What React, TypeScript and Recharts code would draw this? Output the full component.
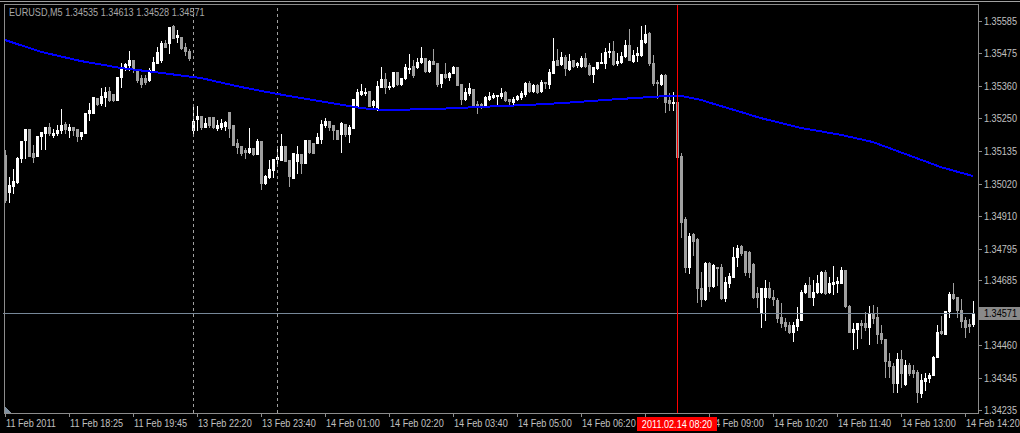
import { ComposedChart, Bar, Line, XAxis, YAxis, ReferenceLine } from "recharts";

// EURUSD M5, 11 Feb 2011 17:05 .. 14 Feb 2011 14:15 (broker time)
const SYMBOL = "EURUSD,M5";

const OPEN = [
  1.35120, 1.34992, 1.35013, 1.35026, 1.35110, 1.35172, 1.35210, 1.35127, 1.35117, 1.35186,
  1.35196, 1.35217, 1.35190, 1.35196, 1.35207, 1.35228, 1.35207, 1.35217, 1.35210, 1.35186,
  1.35196, 1.35266, 1.35266, 1.35318, 1.35301, 1.35321, 1.35342, 1.35332, 1.35311, 1.35391,
  1.35425, 1.35432, 1.35450, 1.35419, 1.35387, 1.35387, 1.35380, 1.35412, 1.35439, 1.35450,
  1.35509, 1.35509, 1.35568, 1.35530, 1.35530, 1.35495, 1.35481, 1.35207, 1.35245, 1.35255,
  1.35217, 1.35252, 1.35252, 1.35214, 1.35217, 1.35221, 1.35269, 1.35224, 1.35162, 1.35151,
  1.35137, 1.35131, 1.35144, 1.35124, 1.35169, 1.35023, 1.35044, 1.35068, 1.35106, 1.35103,
  1.35151, 1.35103, 1.35040, 1.35099, 1.35124, 1.35092, 1.35172, 1.35162, 1.35162, 1.35176,
  1.35224, 1.35238, 1.35224, 1.35207, 1.35193, 1.35228, 1.35193, 1.35214, 1.35287, 1.35332,
  1.35335, 1.35342, 1.35294, 1.35283, 1.35356, 1.35384, 1.35356, 1.35360, 1.35408, 1.35366,
  1.35387, 1.35419, 1.35429, 1.35425, 1.35443, 1.35457, 1.35412, 1.35446, 1.35439, 1.35370,
  1.35401, 1.35391, 1.35405, 1.35425, 1.35366, 1.35314, 1.35335, 1.35349, 1.35297, 1.35297,
  1.35290, 1.35314, 1.35321, 1.35325, 1.35325, 1.35339, 1.35314, 1.35304, 1.35314, 1.35321,
  1.35332, 1.35370, 1.35342, 1.35363, 1.35342, 1.35373, 1.35366, 1.35405, 1.35450, 1.35436,
  1.35460, 1.35419, 1.35450, 1.35432, 1.35429, 1.35457, 1.35432, 1.35401, 1.35422, 1.35439,
  1.35439, 1.35478, 1.35481, 1.35439, 1.35443, 1.35464, 1.35502, 1.35446, 1.35467, 1.35467,
  1.35512, 1.35543, 1.35439, 1.35373, 1.35366, 1.35398, 1.35311, 1.35301, 1.35304, 1.35117,
  1.34898, 1.34732, 1.34846, 1.34829, 1.34659, 1.34620, 1.34745, 1.34666, 1.34732, 1.34732,
  1.34624, 1.34676, 1.34697, 1.34766, 1.34804, 1.34787, 1.34784, 1.34742, 1.34641, 1.34575,
  1.34627, 1.34659, 1.34627, 1.34617, 1.34558, 1.34541, 1.34530, 1.34506, 1.34527, 1.34548,
  1.34645, 1.34669, 1.34627, 1.34645, 1.34645, 1.34714, 1.34645, 1.34673, 1.34676, 1.34676,
  1.34721, 1.34596, 1.34506, 1.34516, 1.34537, 1.34537, 1.34523, 1.34572, 1.34558, 1.34502,
  1.34482, 1.34405, 1.34388, 1.34329, 1.34412, 1.34326, 1.34391, 1.34374, 1.34367, 1.34294,
  1.34336, 1.34346, 1.34357, 1.34419, 1.34509, 1.34499, 1.34579, 1.34638, 1.34627, 1.34582,
  1.34548, 1.34534, 1.34535,
];

const HIGH = [
  1.35137, 1.35044, 1.35072, 1.35113, 1.35169, 1.35210, 1.35210, 1.35155, 1.35186, 1.35200,
  1.35217, 1.35231, 1.35210, 1.35224, 1.35280, 1.35235, 1.35228, 1.35217, 1.35210, 1.35200,
  1.35266, 1.35301, 1.35321, 1.35318, 1.35353, 1.35356, 1.35356, 1.35332, 1.35391, 1.35439,
  1.35439, 1.35481, 1.35450, 1.35419, 1.35398, 1.35398, 1.35422, 1.35460, 1.35495, 1.35516,
  1.35519, 1.35564, 1.35571, 1.35554, 1.35530, 1.35509, 1.35488, 1.35290, 1.35290, 1.35255,
  1.35248, 1.35252, 1.35252, 1.35242, 1.35245, 1.35238, 1.35269, 1.35224, 1.35176, 1.35151,
  1.35144, 1.35214, 1.35144, 1.35176, 1.35169, 1.35051, 1.35103, 1.35106, 1.35144, 1.35193,
  1.35151, 1.35103, 1.35127, 1.35151, 1.35124, 1.35172, 1.35172, 1.35162, 1.35196, 1.35242,
  1.35248, 1.35238, 1.35224, 1.35207, 1.35235, 1.35228, 1.35224, 1.35314, 1.35349, 1.35366,
  1.35353, 1.35342, 1.35311, 1.35377, 1.35425, 1.35405, 1.35373, 1.35408, 1.35408, 1.35387,
  1.35436, 1.35471, 1.35450, 1.35457, 1.35495, 1.35457, 1.35450, 1.35488, 1.35439, 1.35401,
  1.35439, 1.35408, 1.35429, 1.35425, 1.35366, 1.35353, 1.35370, 1.35349, 1.35307, 1.35301,
  1.35325, 1.35339, 1.35335, 1.35328, 1.35353, 1.35342, 1.35314, 1.35321, 1.35328, 1.35342,
  1.35373, 1.35377, 1.35366, 1.35366, 1.35380, 1.35373, 1.35419, 1.35526, 1.35488, 1.35478,
  1.35467, 1.35471, 1.35450, 1.35443, 1.35464, 1.35474, 1.35439, 1.35425, 1.35443, 1.35474,
  1.35491, 1.35509, 1.35516, 1.35474, 1.35478, 1.35519, 1.35557, 1.35484, 1.35495, 1.35568,
  1.35571, 1.35547, 1.35467, 1.35380, 1.35401, 1.35401, 1.35335, 1.35339, 1.35304, 1.35127,
  1.34905, 1.34850, 1.34850, 1.34832, 1.34714, 1.34749, 1.34749, 1.34742, 1.34732, 1.34742,
  1.34697, 1.34711, 1.34801, 1.34808, 1.34808, 1.34787, 1.34787, 1.34745, 1.34662, 1.34659,
  1.34686, 1.34679, 1.34652, 1.34624, 1.34607, 1.34555, 1.34541, 1.34541, 1.34593, 1.34652,
  1.34676, 1.34697, 1.34686, 1.34704, 1.34718, 1.34721, 1.34697, 1.34735, 1.34697, 1.34732,
  1.34721, 1.34600, 1.34537, 1.34537, 1.34548, 1.34575, 1.34596, 1.34600, 1.34593, 1.34530,
  1.34482, 1.34433, 1.34398, 1.34433, 1.34443, 1.34409, 1.34398, 1.34391, 1.34374, 1.34360,
  1.34364, 1.34364, 1.34423, 1.34530, 1.34562, 1.34579, 1.34645, 1.34676, 1.34627, 1.34620,
  1.34558, 1.34551, 1.34613,
];

const LOW = [
  1.34957, 1.34957, 1.34988, 1.35023, 1.35096, 1.35110, 1.35117, 1.35096, 1.35117, 1.35141,
  1.35141, 1.35190, 1.35183, 1.35190, 1.35196, 1.35196, 1.35183, 1.35190, 1.35169, 1.35176,
  1.35196, 1.35242, 1.35266, 1.35294, 1.35294, 1.35290, 1.35307, 1.35307, 1.35311, 1.35356,
  1.35415, 1.35415, 1.35408, 1.35373, 1.35356, 1.35366, 1.35377, 1.35408, 1.35439, 1.35443,
  1.35495, 1.35474, 1.35526, 1.35512, 1.35488, 1.35467, 1.35450, 1.35196, 1.35207, 1.35210,
  1.35217, 1.35217, 1.35214, 1.35207, 1.35210, 1.35207, 1.35183, 1.35155, 1.35127, 1.35120,
  1.35110, 1.35127, 1.35120, 1.35124, 1.35002, 1.35020, 1.35040, 1.35044, 1.35092, 1.35103,
  1.35099, 1.35013, 1.35040, 1.35058, 1.35058, 1.35092, 1.35127, 1.35127, 1.35162, 1.35162,
  1.35217, 1.35207, 1.35176, 1.35176, 1.35131, 1.35186, 1.35165, 1.35214, 1.35287, 1.35328,
  1.35328, 1.35290, 1.35287, 1.35276, 1.35356, 1.35335, 1.35349, 1.35356, 1.35363, 1.35363,
  1.35384, 1.35405, 1.35391, 1.35422, 1.35439, 1.35408, 1.35408, 1.35436, 1.35360, 1.35356,
  1.35387, 1.35380, 1.35405, 1.35363, 1.35297, 1.35311, 1.35328, 1.35287, 1.35266, 1.35283,
  1.35287, 1.35311, 1.35318, 1.35294, 1.35318, 1.35307, 1.35290, 1.35294, 1.35311, 1.35314,
  1.35325, 1.35339, 1.35339, 1.35335, 1.35339, 1.35353, 1.35353, 1.35405, 1.35432, 1.35432,
  1.35398, 1.35415, 1.35425, 1.35425, 1.35425, 1.35425, 1.35398, 1.35373, 1.35419, 1.35439,
  1.35422, 1.35460, 1.35432, 1.35432, 1.35439, 1.35460, 1.35450, 1.35443, 1.35446, 1.35464,
  1.35509, 1.35432, 1.35363, 1.35318, 1.35363, 1.35269, 1.35276, 1.35276, 1.35113, 1.34836,
  1.34714, 1.34711, 1.34773, 1.34610, 1.34596, 1.34617, 1.34648, 1.34662, 1.34669, 1.34620,
  1.34613, 1.34662, 1.34697, 1.34735, 1.34773, 1.34704, 1.34697, 1.34624, 1.34593, 1.34523,
  1.34548, 1.34624, 1.34600, 1.34541, 1.34523, 1.34513, 1.34502, 1.34475, 1.34513, 1.34548,
  1.34641, 1.34627, 1.34600, 1.34641, 1.34641, 1.34638, 1.34641, 1.34638, 1.34645, 1.34676,
  1.34593, 1.34506, 1.34447, 1.34450, 1.34485, 1.34513, 1.34464, 1.34537, 1.34468, 1.34468,
  1.34350, 1.34350, 1.34298, 1.34298, 1.34315, 1.34322, 1.34357, 1.34350, 1.34263, 1.34280,
  1.34305, 1.34333, 1.34357, 1.34419, 1.34499, 1.34499, 1.34558, 1.34620, 1.34558, 1.34523,
  1.34489, 1.34506, 1.34528,
];

const CLOSE = [
  1.34964, 1.35016, 1.35030, 1.35110, 1.35169, 1.35210, 1.35117, 1.35113, 1.35186, 1.35200,
  1.35217, 1.35196, 1.35196, 1.35207, 1.35224, 1.35210, 1.35217, 1.35207, 1.35186, 1.35200,
  1.35266, 1.35276, 1.35321, 1.35297, 1.35325, 1.35339, 1.35311, 1.35311, 1.35391, 1.35425,
  1.35436, 1.35450, 1.35419, 1.35380, 1.35366, 1.35373, 1.35415, 1.35443, 1.35478, 1.35509,
  1.35495, 1.35564, 1.35526, 1.35537, 1.35491, 1.35481, 1.35457, 1.35238, 1.35255, 1.35217,
  1.35231, 1.35224, 1.35217, 1.35224, 1.35231, 1.35235, 1.35214, 1.35155, 1.35148, 1.35127,
  1.35131, 1.35144, 1.35124, 1.35169, 1.35023, 1.35047, 1.35072, 1.35106, 1.35113, 1.35151,
  1.35099, 1.35047, 1.35127, 1.35124, 1.35092, 1.35172, 1.35131, 1.35127, 1.35183, 1.35228,
  1.35238, 1.35217, 1.35207, 1.35176, 1.35231, 1.35193, 1.35217, 1.35314, 1.35339, 1.35342,
  1.35339, 1.35290, 1.35307, 1.35360, 1.35384, 1.35356, 1.35360, 1.35408, 1.35366, 1.35387,
  1.35425, 1.35422, 1.35398, 1.35443, 1.35457, 1.35412, 1.35446, 1.35436, 1.35366, 1.35401,
  1.35391, 1.35405, 1.35425, 1.35363, 1.35314, 1.35339, 1.35353, 1.35290, 1.35287, 1.35287,
  1.35321, 1.35325, 1.35328, 1.35328, 1.35335, 1.35311, 1.35307, 1.35314, 1.35325, 1.35335,
  1.35370, 1.35342, 1.35363, 1.35339, 1.35373, 1.35370, 1.35408, 1.35446, 1.35432, 1.35460,
  1.35422, 1.35446, 1.35429, 1.35439, 1.35457, 1.35429, 1.35401, 1.35425, 1.35443, 1.35443,
  1.35478, 1.35481, 1.35436, 1.35446, 1.35464, 1.35502, 1.35450, 1.35467, 1.35474, 1.35519,
  1.35540, 1.35439, 1.35370, 1.35370, 1.35398, 1.35304, 1.35301, 1.35304, 1.35113, 1.34888,
  1.34732, 1.34839, 1.34822, 1.34659, 1.34620, 1.34745, 1.34666, 1.34738, 1.34728, 1.34624,
  1.34679, 1.34700, 1.34766, 1.34797, 1.34780, 1.34714, 1.34714, 1.34627, 1.34627, 1.34659,
  1.34659, 1.34627, 1.34620, 1.34555, 1.34537, 1.34527, 1.34506, 1.34530, 1.34551, 1.34645,
  1.34669, 1.34627, 1.34645, 1.34676, 1.34714, 1.34641, 1.34676, 1.34679, 1.34683, 1.34721,
  1.34596, 1.34506, 1.34516, 1.34537, 1.34530, 1.34523, 1.34572, 1.34555, 1.34499, 1.34482,
  1.34405, 1.34388, 1.34329, 1.34412, 1.34364, 1.34391, 1.34364, 1.34364, 1.34298, 1.34339,
  1.34346, 1.34357, 1.34419, 1.34506, 1.34502, 1.34579, 1.34638, 1.34624, 1.34582, 1.34544,
  1.34523, 1.34527, 1.34571,
];

// moving average, read at a few bars and joined
const MA_IDX = [0, 9, 19, 29, 39, 49, 59, 68, 83, 89, 95, 108, 119, 131, 140, 150, 161, 166, 169, 174, 179, 189, 199, 209, 217, 225, 234, 242];
const MA_VAL = [
  1.35519, 1.35478, 1.35446, 1.35422, 1.35405, 1.35387, 1.35356, 1.35332, 1.35297, 1.35283,
  1.35276, 1.35280, 1.35287, 1.35294, 1.35301, 1.35311, 1.35321, 1.35325, 1.35325, 1.35311,
  1.35290, 1.35248, 1.35214, 1.35190, 1.35165, 1.35124, 1.35078, 1.35047,
];

// the 07:40 label sits under the cursor date box and is not visible
const TIME_TICKS = [0, 16, 32, 48, 64, 80, 96, 112, 128, 144, 160, 176, 192, 208, 224, 240];
const TIME_LABELS = [
  "11 Feb 2011", "11 Feb 18:25", "11 Feb 19:45", "13 Feb 22:20", "13 Feb 23:40", "14 Feb 01:00",
  "14 Feb 02:20", "14 Feb 03:40", "14 Feb 05:00", "14 Feb 06:20", "", "14 Feb 09:00",
  "14 Feb 10:20", "14 Feb 11:40", "14 Feb 13:00", "14 Feb 14:20",
];

const PRICE_TICKS = [1.35585, 1.35475, 1.3536, 1.3525, 1.35135, 1.3502, 1.3491, 1.34795, 1.34685, 1.34571, 1.3446, 1.34345, 1.34235];
const LAST = 1.34571;
const SEPARATORS = [47, 68];
const CURSOR_IDX = 168;
const CURSOR_LABEL = "2011.02.14 08:20";
const Y_MIN = 1.34225;
const Y_MAX = 1.35644;

const data = OPEN.map((o, i) => {
  const m = MA_IDX.indexOf(i);
  return { i, o, h: HIGH[i], l: LOW[i], c: CLOSE[i], range: [LOW[i], HIGH[i]], ma: m >= 0 ? MA_VAL[m] : null };
});

const FONT = "'Liberation Sans', Arial, sans-serif";
const TXT = "#c0c0c0";
const FRAME = "#8c8c8c";

// MT4 uses a narrow 8pt face; squeeze Liberation Sans horizontally to match
function Label({ x, y, fill, anchor, children }: any) {
  return (
    <text transform={`translate(${x},${y}) scale(0.83,1)`} textAnchor={anchor || "start"} fill={fill} fontSize={11} fontFamily={FONT}>
      {children}
    </text>
  );
}

function Candle(props: any) {
  const { x, y, width, height, payload } = props;
  const { o, h, l, c } = payload;
  const k = height / (h - l || 1e-9);
  const py = (v: number) => Math.round(y + (h - v) * k);
  const cx = Math.round(x + width / 2);
  const color = c >= o ? "#ffffff" : "#a0a0a0";
  const top = py(Math.max(o, c));
  const bot = py(Math.min(o, c));
  const hi = py(h);
  const lo = py(l);
  return (
    <g>
      <rect x={cx} y={hi} width={1} height={lo - hi + 1} fill={color} />
      <rect x={cx - 1} y={top} width={3} height={bot - top + 1} fill={color} />
    </g>
  );
}

function TimeTick(props: any) {
  const { x, payload } = props;
  const cx = Math.round(x);
  if (payload.value === CURSOR_IDX) {
    return (
      <g>
        <rect x={cx - 40} y={417} width={80} height={14} fill="#ff0000" />
        <Label x={cx} y={428} fill="#ffffff" anchor="middle">{CURSOR_LABEL}</Label>
      </g>
    );
  }
  const n = TIME_TICKS.indexOf(payload.value);
  if (n < 0) return null;
  return (
    <g>
      <line x1={cx + 0.5} x2={cx + 0.5} y1={413} y2={417} stroke={FRAME} />
      {TIME_LABELS[n] ? <Label x={cx + 1} y={427} fill={TXT}>{TIME_LABELS[n]}</Label> : null}
    </g>
  );
}

function PriceTick(props: any) {
  const { y, payload } = props;
  const ax = 978;
  const cy = Math.round(y);
  if (payload.value === LAST) {
    return (
      <g>
        <rect x={ax + 1} y={cy - 6} width={41} height={13} fill="#8a8a8a" />
        <Label x={ax + 6} y={cy + 4} fill="#000000">{LAST.toFixed(5)}</Label>
      </g>
    );
  }
  return (
    <g>
      <line x1={ax} x2={ax + 4} y1={cy + 0.5} y2={cy + 0.5} stroke={FRAME} />
      <Label x={ax + 6} y={cy + 4} fill={TXT}>{payload.value.toFixed(5)}</Label>
    </g>
  );
}

export default function App() {
  const last = data[data.length - 1];
  const title = `${SYMBOL}  ${last.o.toFixed(5)} ${last.h.toFixed(5)} ${last.l.toFixed(5)} ${last.c.toFixed(5)}`;
  return (
    <div style={{ position: "absolute", left: 0, top: 0, width: 1020, height: 433, background: "#000", shapeRendering: "crispEdges", overflow: "hidden" }}>
      <ComposedChart width={1020} height={433} data={data} margin={{ top: 4, right: 0, bottom: 0, left: 3 }} barCategoryGap={0}>
        <XAxis dataKey="i" type="category" ticks={[...TIME_TICKS, CURSOR_IDX]} interval={0} height={20} tick={<TimeTick />} tickLine={false} axisLine={false} />
        <YAxis orientation="right" type="number" domain={[Y_MIN, Y_MAX]} ticks={PRICE_TICKS} width={45} tick={<PriceTick />} tickLine={false} axisLine={false} tickSize={0} tickMargin={0} allowDataOverflow />
        {SEPARATORS.map((s) => (
          <ReferenceLine key={s} x={s} stroke="#a0a0a0" strokeDasharray="3 3" />
        ))}
        <ReferenceLine y={LAST} stroke="#778899" />
        <Bar dataKey="range" shape={<Candle />} isAnimationActive={false} />
        <Line dataKey="ma" type="linear" stroke="#0000ff" strokeWidth={2} dot={false} connectNulls isAnimationActive={false} />
        <ReferenceLine x={CURSOR_IDX} stroke="#ff0000" />
      </ComposedChart>
      <svg width={1020} height={433} style={{ position: "absolute", left: 0, top: 0, pointerEvents: "none" }}>
        <line x1={0} x2={1020} y1={1.5} y2={1.5} stroke="#a0a0a0" />
        <line x1={4} x2={978} y1={4.5} y2={4.5} stroke={FRAME} />
        <line x1={4.5} x2={4.5} y1={4} y2={413} stroke={FRAME} />
        <line x1={978.5} x2={978.5} y1={4} y2={414} stroke={FRAME} />
        <line x1={4} x2={979} y1={413.5} y2={413.5} stroke={FRAME} />
        <polygon points="5,406 5,413 11,413" fill="#8090a0" />
        <Label x={9} y={16} fill="#a8a8a8">{title}</Label>
      </svg>
    </div>
  );
}
